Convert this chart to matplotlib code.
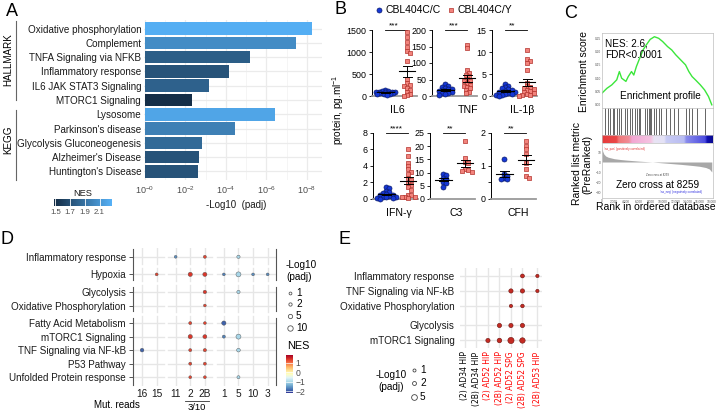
import numpy as np
import matplotlib
matplotlib.use("Agg")
import matplotlib.pyplot as plt
from matplotlib.colors import LinearSegmentedColormap, Normalize
from matplotlib.cm import ScalarMappable
from matplotlib.lines import Line2D

plt.rcParams['font.family'] = ['Liberation Sans', 'DejaVu Sans']
plt.rcParams['mathtext.fontset'] = 'custom'
plt.rcParams['mathtext.rm'] = 'Liberation Sans'
plt.rcParams['mathtext.it'] = 'Liberation Sans:italic'
plt.rcParams['mathtext.bf'] = 'Liberation Sans:bold'

# ---------------- data: panel A ----------------
A_terms = ["Oxidative phosphorylation", "Complement", "TNFA Signaling via NFKB",
           "Inflammatory response", "IL6 JAK STAT3 Signaling", "MTORC1 Signaling",
           "Lysosome", "Parkinson's disease", "Glycolysis Gluconeogenesis",
           "Alzheimer's Disease", "Huntington's Disease"]
A_neglog_padj = [8.25, 7.45, 5.2, 4.15, 3.15, 2.3, 6.45, 4.45, 2.8, 2.65, 2.6]
A_nes = [2.25, 2.05, 1.78, 1.72, 1.8, 1.5, 2.2, 1.98, 1.85, 1.72, 1.72]
A_xticks = [0, 2, 4, 6, 8]
A_xticklabels = ["10$^{-0}$", "10$^{-2}$", "10$^{-4}$", "10$^{-6}$", "10$^{-8}$"]
A_nes_ticks = [1.5, 1.7, 1.9, 2.1]

# ---------------- data: panel B ----------------
B_names = ["IL6", "TNF", "IL-1β", "IFN-γ", "C3", "CFH"]
B_CC = [
    [140, 120, 110, 100, 95, 90, 85, 80, 75, 70, 60, 55, 50, 40, 30],
    [35, 30, 28, 25, 22, 20, 18, 16, 15, 12, 10, 8, 5, 3],
    [2.8, 2.3, 2.0, 1.8, 1.5, 1.3, 1.2, 1.0, 0.9, 0.8, 0.6, 0.5, 0.4, 0.3, 0.2, 0.1],
    [1.5, 1.3, 1.0, 0.8, 0.7, 0.6, 0.5, 0.45, 0.4, 0.3, 0.25, 0.2, 0.15, 0.1, 0.05],
    [9.5, 9.2, 8.0, 7.5, 6.5, 6.0, 4.5],
    [1.22, 0.75, 0.7, 0.65, 0.6, 0.6],
]
B_CY = [
    [1453, 1346, 1224, 1117, 1017, 979, 788, 382, 290, 252, 230, 191, 138, 99, 46, 23, 0],
    [155, 144, 80, 71, 64, 60, 51, 45, 44, 39, 34, 31, 27, 23, 18, 13, 8],
    [10.5, 8.5, 8.0, 7.5, 6.0, 3.0, 2.2, 2.0, 1.8, 1.5, 1.3, 1.1, 0.9, 0.7, 0.5, 0.3, 0.2, 0.1],
    [6.0, 5.2, 4.4, 4.0, 3.6, 3.3, 3.0, 2.6, 2.3, 1.9, 1.7, 1.4, 1.1, 0.5, 0.45, 0.3, 0.25, 0.2, 0.1],
    [22, 15.5, 14.2, 13.5, 11.2, 11, 10.5, 10.2],
    [1.75, 1.6, 1.5, 1.35, 1.1, 0.9, 0.7, 0.65],
]
B_ymax = [1500, 200, 15, 8, 25, 2]
B_yticks = [[0, 500, 1000, 1500], [0, 50, 100, 150, 200], [0, 5, 10, 15],
            [0, 2, 4, 6, 8], [0, 5, 10, 15, 20, 25], [0, 1, 2]]
B_stars = ["***", "***", "**", "****", "**", "**"]
B_legend = ["CBL404C/C", "CBL404C/Y"]

# ---------------- data: panel C ----------------
C_es_rank = [0, 806, 1612, 2418, 2848, 3224, 3922, 4299, 4836, 5212, 5642, 6179, 6716,
             7254, 7899, 8597, 9296, 9940, 10746, 11445, 12090, 12896, 13701, 14239,
             14776, 15313, 16119, 16818, 17463, 18000]
C_es = [0.044, 0.062, 0.075, 0.094, 0.125, 0.100, 0.088, 0.106, 0.125, 0.112, 0.144,
        0.175, 0.206, 0.225, 0.246, 0.256, 0.250, 0.238, 0.219, 0.206, 0.188, 0.169,
        0.150, 0.125, 0.106, 0.094, 0.075, 0.056, 0.031, 0.0]
C_hits = [537, 913, 1343, 1773, 2042, 2418, 2740, 3116, 3761, 4137, 4567, 4890, 5373,
          5749, 6072, 6287, 6985, 7361, 7684, 7899, 8113, 8597, 8866, 9296, 9672,
          10478, 11122, 11821, 12519, 13701, 14239, 14776, 15582, 16925]
C_metric_rank = [0, 100, 300, 600, 1000, 2000, 3000, 4000, 5000, 6000, 7000, 8259, 9000,
                 10000, 11000, 12000, 13000, 14000, 15000, 16000, 17000, 17600, 18000]
C_metric = [16, 11, 8, 6, 4.8, 3.3, 2.5, 1.9, 1.4, 0.9, 0.5, 0, -0.4, -0.9, -1.4, -1.9,
            -2.4, -3.0, -3.6, -4.3, -5.5, -7, -10]
C_es_ticks = [0.0, 0.05, 0.10, 0.15, 0.20, 0.25]
C_metric_ticks = [10, 0, -10, -20, -30]
C_rank_ticks = [0, 2000, 4000, 6000, 8000, 10000, 12000, 14000, 16000, 18000]

# ---------------- data: panel D ----------------
D_rows = ["Inflammatory response", "Hypoxia", "Glycolysis", "Oxidative Phosphorylation",
          "Fatty Acid Metabolism", "mTORC1 Signaling", "TNF Signaling via NF-kB",
          "P53 Pathway", "Unfolded Protein response"]
D_row_group = [0, 1, 2, 2, 3, 3, 3, 3, 3]
D_cols = ["16", "15", "11", "2", "2B", "1", "5", "10", "3"]
D_col_group = [0, 0, 1, 1, 1, 2, 2, 2, 2]
D_pt_row = ["Inflammatory response"] * 3 + ["Hypoxia"] * 7 + ["Glycolysis"] * 2 + \
           ["Oxidative Phosphorylation"] + ["Fatty Acid Metabolism"] * 3 + \
           ["mTORC1 Signaling"] * 4 + ["TNF Signaling via NF-kB"] * 4 + \
           ["P53 Pathway"] * 2 + ["Unfolded Protein response"] * 3
D_pt_col = ["11", "2B", "5",
            "15", "2", "2B", "1", "5", "10", "3",
            "2B", "5",
            "2B",
            "2", "2B", "1",
            "2", "2B", "1", "5",
            "16", "2", "2B", "5",
            "2", "2B",
            "2", "2B", "5"]
D_pt_nes = [-1.6, 1.3, -1.0,
            1.3, 1.4, 1.4, -1.7, -1.0, -1.6, -1.6,
            1.4, -1.0,
            1.3,
            1.3, 1.3, -1.9,
            1.4, 1.4, -1.7, -1.0,
            -1.9, 1.3, 1.3, -1.0,
            1.3, 1.3,
            1.3, 1.3, -1.0]
D_pt_padj = [1, 1.5, 2,
             1.2, 5, 4.5, 1, 8, 1, 1,
             2.5, 2,
             1,
             1.5, 1.2, 5,
             5, 4, 1.5, 8,
             3, 1.5, 2, 3,
             1.5, 1.5,
             1.2, 1.2, 1.5]
D_size_legend = [1, 2, 5, 10]
D_nes_ticks = [1, 0, -1, -2]

# ---------------- data: panel E ----------------
E_rows = ["Inflammatory response", "TNF Signaling via NF-kB", "Oxidative Phosphorylation",
          "Glycolysis", "mTORC1 Signaling"]
E_row_group = [0, 0, 0, 1, 1]
E_cols = ["(2) AD34 HIP", "(2B) AD34 HIP", "(2) AD52 HIP", "(2B) AD52 HIP",
          "(2) AD52 SPG", "(2B) AD52 SPG", "(2B) AD53 HIP"]
E_col_group = [0, 0, 0, 0, 0, 0, 1]
E_col_color = ["black", "black", "red", "red", "red", "red", "red"]
E_pt_row = ["Inflammatory response"] * 2 + ["TNF Signaling via NF-kB"] * 3 + \
           ["Oxidative Phosphorylation"] * 2 + ["Glycolysis"] * 3 + ["mTORC1 Signaling"] * 4
E_pt_col = ["(2B) AD52 SPG", "(2B) AD53 HIP",
            "(2) AD52 SPG", "(2B) AD52 SPG", "(2B) AD53 HIP",
            "(2) AD52 SPG", "(2B) AD52 SPG",
            "(2B) AD52 HIP", "(2) AD52 SPG", "(2B) AD52 SPG",
            "(2) AD52 HIP", "(2B) AD52 HIP", "(2) AD52 SPG", "(2B) AD52 SPG"]
E_pt_padj = [2, 1.3, 2.5, 2.5, 1.3, 1.3, 1.6, 2.5, 2.5, 2.5, 2.5, 3, 6, 4.5]
E_size_legend = [1, 2, 5]

# ================= figure =================
W, H = 720, 413
PT = 100 / 72.0
fig = plt.figure(figsize=(W / 100, H / 100), dpi=100)


def rect(l, t, r, b):
    return [l / W, 1 - b / H, (r - l) / W, (b - t) / H]


def fx(x):
    return x / W


def fy(y):
    return 1 - y / H


def ftext(x, y, s, **kw):
    return fig.text(fx(x), fy(y), s, **kw)


def fline(xs, ys, **kw):
    fig.add_artist(Line2D([fx(v) for v in xs], [fy(v) for v in ys], **kw))


def fmarker(x, y, **kw):
    fig.add_artist(Line2D([fx(x)], [fy(y)], linestyle='none', **kw))


# panel letters
for letter, (lx, ly) in zip("ABCDE", [(6, 11), (335, 10), (564, 13), (1, 240), (338, 240)]):
    ftext(lx, ly, letter, fontsize=13, va='center', ha='left')

# ---------------- Panel A ----------------
cmapA = LinearSegmentedColormap.from_list('nesA', ['#132B43', '#56B1F7'])
normA = Normalize(1.48, 2.27)
axA = fig.add_axes(rect(144, 20, 322, 180))
yA = np.arange(len(A_terms))
axA.set_axisbelow(True)
axA.barh(yA, A_neglog_padj, height=0.88, color=cmapA(normA(A_nes)), zorder=2)
axA.set_xticks(A_xticks)
axA.set_xticklabels(A_xticklabels)
axA.set_xticks([1, 3, 5, 7], minor=True)
axA.set_yticks(yA)
axA.set_yticklabels(A_terms)
axA.grid(True, which='major', color='#EBEBEB', lw=0.9)
axA.grid(True, which='minor', axis='x', color='#F4F4F4', lw=0.6)
axA.set_xlim(-0.05, 8.75)
axA.set_ylim(10.6, -0.6)
for s in axA.spines.values():
    s.set_visible(False)
axA.tick_params(length=0, which='both')
axA.tick_params(axis='y', labelsize=7.1, pad=2, labelcolor='#1a1a1a')
axA.tick_params(axis='x', labelsize=6.5, pad=3, labelcolor='#4d4d4d')
ftext(236, 205, "-Log10  (padj)", fontsize=7, ha='center', va='center', color='#1a1a1a')

ftext(8, 60, "HALLMARK", rotation=90, fontsize=7.1, ha='center', va='center')
fline([16, 16], [21, 100], color='#666666', lw=0.8)
ftext(8, 140, "KEGG", rotation=90, fontsize=7.1, ha='center', va='center')
fline([16, 16], [110, 180], color='#666666', lw=0.8)

caxA = fig.add_axes(rect(54, 199, 112, 206))
cbA = fig.colorbar(ScalarMappable(norm=normA, cmap=cmapA), cax=caxA, orientation='horizontal')
cbA.set_ticks(A_nes_ticks)
cbA.outline.set_visible(False)
caxA.tick_params(length=0, labelsize=5.6, labelcolor='#4d4d4d', pad=2)
for t in A_nes_ticks:
    caxA.axvline(t, color='white', lw=0.6)
ftext(83, 193, "NES", fontsize=6.7, ha='center', va='center', color='#1a1a1a')

# ---------------- Panel B ----------------
B_rects = [(372, 30, 417, 96), (432, 30, 477, 96), (492, 30, 537, 96),
           (373, 133, 418, 199), (430, 133, 475, 199), (491, 133, 536, 199)]
B_name_xy = [(397, 110), (468, 110), (522, 110), (399, 213), (456, 213), (518, 213)]
BLUE_F, BLUE_E = '#1638D6', '#0A1B6E'
RED_F, RED_E = '#F2837C', '#B3332C'
XLIM_B = (-0.6, 1.45)


def swarm(vals, ymax, hpx, pxu, diam=3.2, maxoff=10.0, step=1.6):
    vals = np.asarray(vals, float)
    ypx = vals / ymax * hpx
    order = np.argsort(-ypx)
    placed = []
    offs = np.zeros(len(vals))
    cands = [0.0]
    j = 1
    while j * step <= maxoff:
        cands += [j * step, -j * step]
        j += 1
    for i in order:
        best, bestd = 0.0, -1.0
        for c in cands:
            dmin = min([np.hypot(c - px, ypx[i] - py) for px, py in placed] + [99.0])
            if dmin >= diam:
                best = c
                break
            if dmin > bestd:
                best, bestd = c, dmin
        placed.append((best, ypx[i]))
        offs[i] = best / pxu
    return offs


for k in range(6):
    l, t, r, b = B_rects[k]
    ax = fig.add_axes(rect(l, t, r, b))
    hpx = b - t
    pxu = (r - l) / (XLIM_B[1] - XLIM_B[0])
    for gi, (vals, mk, fc, ec, ms) in enumerate([(B_CC[k], 'o', BLUE_F, BLUE_E, 3.6),
                                                  (B_CY[k], 's', RED_F, RED_E, 3.3)]):
        v = np.asarray(vals, float)
        xo = swarm(v, B_ymax[k], hpx, pxu)
        ax.scatter(gi + xo, v, marker=mk, s=ms ** 2, facecolor=fc, edgecolor=ec,
                   linewidths=0.5, clip_on=False, zorder=3)
        m = v.mean()
        se = v.std(ddof=1) / np.sqrt(len(v))
        ax.plot([gi - 0.38, gi + 0.38], [m, m], color='black', lw=0.8, zorder=4, clip_on=False)
        ax.plot([gi, gi], [m - se, m + se], color='black', lw=0.7, zorder=4, clip_on=False)
        for yy in (m - se, m + se):
            ax.plot([gi - 0.2, gi + 0.2], [yy, yy], color='black', lw=0.7, zorder=4, clip_on=False)
    ax.set_xlim(*XLIM_B)
    ax.set_ylim(0, B_ymax[k])
    ax.set_yticks(B_yticks[k])
    if B_names[k] == "CFH":
        ax.set_yticks([0.5, 1.5], minor=True)
    ax.set_xticks([])
    for s in ('top', 'right'):
        ax.spines[s].set_visible(False)
    ax.spines['left'].set_linewidth(0.7)
    ax.spines['bottom'].set_color('#9a9a9a')
    ax.spines['bottom'].set_linewidth(1.3)
    ax.tick_params(axis='y', which='both', length=2.5, width=0.6, labelsize=6.4, pad=1.5)
    ax.patch.set_alpha(0)
    ys = B_ymax[k] * 1.0
    ax.plot([0, 1], [ys, ys], color='black', lw=0.6, clip_on=False)
    ax.text(0.15, ys * 1.015, B_stars[k], fontsize=6, ha='left', va='bottom')
    nx, ny = B_name_xy[k]
    ftext(nx, ny, B_names[k], fontsize=7.6, ha='center', va='center')

ftext(338, 110, "protein, pg.ml$^{-1}$", rotation=90, fontsize=7.2, ha='center', va='center')
fmarker(379, 10, marker='o', ms=3.6, mfc=BLUE_F, mec=BLUE_E, mew=0.5)
ftext(385, 10, B_legend[0], fontsize=7.5, ha='left', va='center')
fmarker(451, 10, marker='s', ms=3.3, mfc=RED_F, mec=RED_E, mew=0.5)
ftext(457, 10, B_legend[1], fontsize=7.5, ha='left', va='center')

# ---------------- Panel C ----------------
CL, CR = 602, 713
XMAXC = 18200
frame_c = '#bdbdbd'


def style_c(ax):
    for s in ax.spines.values():
        s.set_color(frame_c)
        s.set_linewidth(0.5)
    ax.set_xlim(0, XMAXC)


ax1 = fig.add_axes(rect(CL, 33, CR, 108))
ax1.plot(C_es_rank, C_es, color='#3BE63B', lw=1.0)
style_c(ax1)
ax1.set_ylim(-0.012, 0.27)
ax1.set_xticks([])
ax1.set_yticks(C_es_ticks)
ax1.set_yticklabels(["%.2f" % v for v in C_es_ticks])
ax1.tick_params(axis='y', length=0, labelsize=2.3, pad=0.8, labelcolor='#555555')
ax1.text(0.03, 0.92, "NES: 2.6,\nFDR<0.0001", transform=ax1.transAxes, fontsize=7.2,
         va='top', ha='left', linespacing=1.15)
ax1.text(0.53, 0.16, "Enrichment profile", transform=ax1.transAxes, fontsize=7.2,
         va='center', ha='center')

ax2 = fig.add_axes(rect(CL, 108, CR, 135))
ax2.vlines(C_hits, 0, 1, color='#3a3a3a', lw=0.55)
style_c(ax2)
ax2.set_ylim(0, 1)
ax2.set_xticks([])
ax2.set_yticks([])

strip_cmap = LinearSegmentedColormap.from_list('strip', [
    (0.0, '#E63A3A'), (0.13, '#EA4848'), (0.15, '#F07878'), (0.24, '#F08C96'),
    (0.27, '#F2A6D2'), (0.44, '#F5C4E2'), (0.47, '#E9E4F4'), (0.56, '#E4E2F6'),
    (0.58, '#C9CCF4'), (0.74, '#B8BCF2'), (0.76, '#8A8CEC'), (0.93, '#4C4CE0'),
    (0.95, '#1010B0'), (1.0, '#0A0A90')])
ax3 = fig.add_axes(rect(CL, 135, CR, 143))
ax3.imshow(np.linspace(0, 1, 256)[None, :], aspect='auto', cmap=strip_cmap,
           extent=[0, XMAXC, 0, 1])
style_c(ax3)
ax3.set_xticks([])
ax3.set_yticks([])

ax4 = fig.add_axes(rect(CL, 143, CR, 198))
ax4.fill_between(C_metric_rank, C_metric, 0, color='#a8a8a8', lw=0)
style_c(ax4)
ax4.set_ylim(-36, 19)
ax4.set_yticks(C_metric_ticks)
ax4.set_xticks(C_rank_ticks)
ax4.set_xticklabels(["{:,}".format(v) for v in C_rank_ticks])
ax4.tick_params(axis='y', length=0, labelsize=2.3, pad=0.8, labelcolor='#555555')
ax4.tick_params(axis='x', length=0, labelsize=2.3, pad=1, labelcolor='#555555')
ax4.text(0.02, 0.93, "'na_pos' (positively correlated)", transform=ax4.transAxes,
         fontsize=2.2, color='#E03030', va='top')
ax4.text(0.52, 0.1, "'na_neg' (negatively correlated)", transform=ax4.transAxes,
         fontsize=2.2, color='#3030E0', va='center')
ax4.text(0.5, 0.42, "Zero cross at 8259", transform=ax4.transAxes, fontsize=2,
         ha='center', va='center', color='#444444')
ax4.text(0.5, 0.24, "Zero cross at 8259", transform=ax4.transAxes, fontsize=7.2,
         ha='center', va='center')

ftext(584, 72, "Enrichment score", rotation=90, fontsize=7.5, ha='center', va='center')
ftext(582, 164, "Ranked list metric\n(PreRanked)", rotation=90, fontsize=7.5,
      ha='center', va='center', linespacing=1.1)
ftext(656, 207, "Rank in ordered database", fontsize=7.5, ha='center', va='center')

# ---------------- Panel D ----------------
GAP = 0.3
D_ypos = {n: i + GAP * g for i, (n, g) in enumerate(zip(D_rows, D_row_group))}
D_xpos = {n: i + GAP * g for i, (n, g) in enumerate(zip(D_cols, D_col_group))}
axD = fig.add_axes(rect(133, 248, 276, 386))
axD.set_ylim(9.55, -0.65)
axD.set_xlim(-0.62, 9.17)
GRID = '#E6E6E6'
xg_ranges = []
for g in sorted(set(D_col_group)):
    xs = [D_xpos[c] for c, gg in zip(D_cols, D_col_group) if gg == g]
    xg_ranges.append((min(xs) - 0.5, max(xs) + 0.5))
xg_ranges[0] = (-0.62, xg_ranges[0][1])
xg_ranges[-1] = (xg_ranges[-1][0], 9.17)
yg_ranges = []
for g in sorted(set(D_row_group)):
    ys = [D_ypos[r] for r, gg in zip(D_rows, D_row_group) if gg == g]
    yg_ranges.append((min(ys) - 0.5, max(ys) + 0.5))
yg_ranges[0] = (-0.65, yg_ranges[0][1])
yg_ranges[-1] = (yg_ranges[-1][0], 9.55)
for r in D_rows:
    for a, b in xg_ranges:
        axD.plot([a, b], [D_ypos[r]] * 2, color=GRID, lw=1.0, zorder=0)
for c in D_cols:
    for a, b in yg_ranges:
        axD.plot([D_xpos[c]] * 2, [a, b], color=GRID, lw=1.0, zorder=0)
side_groups = [(yg_ranges[0][0], yg_ranges[1][1]), yg_ranges[2], yg_ranges[3]]
for a, b in side_groups:
    axD.plot([-0.62, -0.62], [a + 0.1, b - 0.1], color='#555555', lw=0.8, clip_on=False)
    axD.plot([9.17, 9.17], [a + 0.1, b - 0.1], color='#555555', lw=0.8, clip_on=False)

cmapD = plt.get_cmap('RdYlBu_r')
normD = Normalize(-2.2, 1.85)


def d_size(v):
    d = 1.6 + 1.2 * np.sqrt(np.asarray(v, float))
    return (d / PT) ** 2


axD.scatter([D_xpos[c] for c in D_pt_col], [D_ypos[r] for r in D_pt_row],
            s=d_size(D_pt_padj), c=D_pt_nes, cmap=cmapD, norm=normD,
            edgecolors='#505050', linewidths=0.3, zorder=3)
for s in axD.spines.values():
    s.set_visible(False)
axD.set_yticks([D_ypos[r] for r in D_rows])
axD.set_yticklabels(D_rows)
axD.set_xticks([D_xpos[c] for c in D_cols])
axD.set_xticklabels(D_cols)
axD.tick_params(axis='y', length=3, width=0.7, color='#555555', labelsize=7.1, pad=2,
                labelcolor='#1a1a1a')
axD.tick_params(axis='x', length=0, labelsize=7.3, pad=2, labelcolor='#1a1a1a')
ftext(117, 405, "Mut. reads", fontsize=7, ha='center', va='center')
fline([185, 209], [400.5, 400.5], color='#333333', lw=0.6)
ftext(197, 408, "3/10", fontsize=6.8, ha='center', va='center')

ftext(286, 271, "-Log10\n(padj)", fontsize=7.2, ha='left', va='center', linespacing=1.25)
for v, yy in zip(D_size_legend, [293, 304, 316, 328]):
    d = 1.6 + 1.2 * np.sqrt(v)
    fmarker(290, yy, marker='o', ms=d / PT, mfc='white', mec='#555555', mew=0.6)
    ftext(296, yy, str(v), fontsize=7.2, ha='left', va='center')
ftext(298, 346, "NES", fontsize=7.8, ha='center', va='center')
caxD = fig.add_axes(rect(286, 355, 293, 393))
cbD = fig.colorbar(ScalarMappable(norm=normD, cmap=cmapD), cax=caxD, orientation='vertical')
cbD.set_ticks(D_nes_ticks)
cbD.outline.set_visible(False)
caxD.tick_params(length=0, labelsize=6.2, labelcolor='#4d4d4d', pad=2)
for t in D_nes_ticks:
    caxD.axhline(t, color='white', lw=0.5)

# ---------------- Panel E ----------------
E_ypos = {n: i + GAP * g for i, (n, g) in enumerate(zip(E_rows, E_row_group))}
E_xpos = {n: i + GAP * g for i, (n, g) in enumerate(zip(E_cols, E_col_group))}
axE = fig.add_axes(rect(460, 268, 542, 348))
axE.set_ylim(4.8, -0.53)
axE.set_xlim(-0.43, 6.7)
for r in E_rows:
    axE.plot([-0.43, 6.7], [E_ypos[r]] * 2, color=GRID, lw=1.0, zorder=0)
for c in E_cols:
    axE.plot([E_xpos[c]] * 2, [-0.53, 4.8], color=GRID, lw=1.0, zorder=0)


def e_size(v):
    d = 0.8 + 2.2 * np.sqrt(np.asarray(v, float))
    return (d / PT) ** 2


axE.scatter([E_xpos[c] for c in E_pt_col], [E_ypos[r] for r in E_pt_row],
            s=e_size(E_pt_padj), color='#C42B23', edgecolors='#6B1410', linewidths=0.4, zorder=3)
for s in axE.spines.values():
    s.set_visible(False)
axE.set_yticks([E_ypos[r] for r in E_rows])
axE.set_yticklabels(E_rows)
axE.set_xticks([E_xpos[c] for c in E_cols])
axE.set_xticklabels(E_cols, rotation=90, family=['DejaVu Sans'])
for lab, col in zip(axE.get_xticklabels(), E_col_color):
    lab.set_color(col)
axE.tick_params(axis='y', length=0, labelsize=7.1, pad=4, labelcolor='#1a1a1a')
axE.tick_params(axis='x', length=0, labelsize=5.5, pad=2.5)

ftext(391, 381, "-Log10\n(padj)", fontsize=7.2, ha='center', va='center', linespacing=1.25)
for v, yy in zip(E_size_legend, [370, 383, 397]):
    d = 0.8 + 2.2 * np.sqrt(v)
    fmarker(414, yy, marker='o', ms=d / PT, mfc='white', mec='#444444', mew=0.6)
    ftext(420, yy, str(v), fontsize=7.2, ha='left', va='center')

fig.savefig("out.png", dpi=100)
